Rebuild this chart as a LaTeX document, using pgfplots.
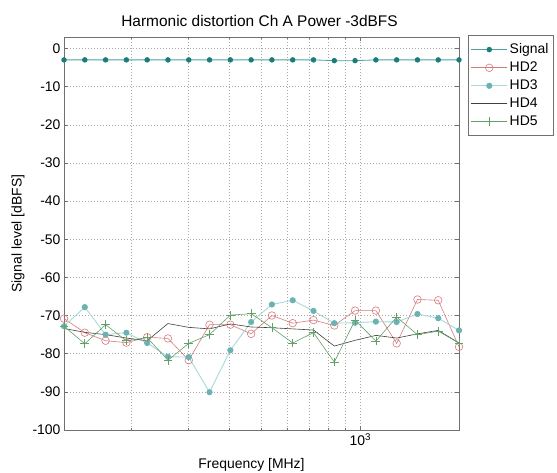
\documentclass[border=0pt]{standalone}
\usepackage{fontspec}
\setmainfont{Liberation Sans}
\usepackage{pgfplots}
\pgfplotsset{compat=1.18}
\usepackage{pgfplotstable}

\definecolor{sigline}{HTML}{4AA3A0}
\definecolor{sigmark}{HTML}{1C7C78}
\definecolor{hdtwo}{HTML}{D77A7E}
\definecolor{hdthreeline}{HTML}{A8D8D8}
\definecolor{hdthreemark}{HTML}{6CB2B2}
\definecolor{hdfour}{HTML}{404040}
\definecolor{hdfive}{HTML}{62A068}
\definecolor{axgray}{HTML}{707070}
\definecolor{gridgray}{HTML}{A8A8A8}

% Measured levels per input frequency (MHz)
\pgfplotstableread{
f       sig   hd2   hd3   hd4   hd5
125     -3.0  -70.8 -72.8 -73.4 -72.8
144.64  -3.0  -74.5 -67.8 -74.4 -77.4
167.36  -3.0  -76.6 -75.0 -75.0 -72.4
193.66  -3.0  -77.1 -74.5 -75.9 -76.6
224.09  -3.0  -75.7 -77.2 -76.6 -75.8
259.30  -3.0  -76.0 -80.8 -72.1 -81.7
300.04  -3.0  -81.7 -80.9 -73.1 -77.3
347.18  -3.0  -72.4 -90.1 -73.5 -75.0
401.73  -3.0  -72.4 -79.1 -72.2 -69.9
464.85  -3.0  -74.8 -71.7 -73.0 -69.5
537.89  -3.0  -70.0 -67.1 -73.2 -73.2
622.40  -3.0  -72.0 -66.0 -73.5 -77.2
720.19  -3.0  -71.2 -68.8 -73.8 -74.5
833.34  -3.2  -72.6 -72.0 -78.0 -82.2
964.27  -3.2  -68.7 -71.9 -76.5 -71.2
1115.77 -3.0  -68.7 -71.6 -75.2 -76.7
1291.07 -3.0  -77.3 -71.7 -75.9 -70.4
1493.91 -3.0  -65.8 -69.6 -74.8 -75.0
1728.62 -3.0  -66.0 -70.7 -73.9 -74.1
2000    -3.0  -78.2 -73.9 -77.2 -77.2
}\hdtable

\begin{document}
\begin{tikzpicture}
\useasboundingbox (-64bp,-43bp) rectangle (493bp,430bp);
\begin{axis}[
  at={(0,0)}, anchor=south west,
  scale only axis, width=395bp, height=393bp,
  xmode=log, xmin=125, xmax=2000,
  ymin=-100, ymax=3,
  xtick={1000}, xticklabels={10\textsuperscript{3}},
  minor xtick={200,300,400,500,600,700,800,900},
  ytick={-100,-90,...,0},
  xmajorgrids, xminorgrids, ymajorgrids,
  grid style={gridgray, line width=0.5bp, dash pattern=on 1bp off 2bp},
  minor grid style={gridgray, line width=0.5bp, dash pattern=on 1bp off 2bp},
  axis line style={axgray, line width=0.8bp},
  tick style={axgray, line width=0.5bp},
  tick align=inside, major tick length=4bp, minor tick length=2.5bp,
  font=\fontsize{14}{16}\selectfont,
  ticklabel style={font=\fontsize{14}{16}\selectfont},
  /pgf/number format/assume math mode=true,
  title={Harmonic distortion Ch A Power -3dBFS},
  title style={font=\fontsize{15.5}{18}\selectfont, at={(axis description cs:0.5,1)}, anchor=center, yshift=10bp, xshift=-2bp},
  xlabel={Frequency [MHz]},
  xlabel style={at={(axis description cs:0.5,0)}, anchor=center, yshift=-35bp, xshift=-10bp},
  ylabel={Signal level [dBFS]},
  ylabel style={at={(axis description cs:-0.1165,0.5)}, anchor=center},
  legend style={at={(1,1)}, anchor=north west, xshift=9bp, yshift=2bp,
    draw=axgray, line width=0.6bp, font=\fontsize{14}{16}\selectfont,
    row sep=2.8bp, inner xsep=2.5bp, inner ysep=6.5bp},
  legend cell align=left,
  legend image code/.code={
    \draw[mark repeat=2, mark phase=2, #1] plot coordinates {(0bp,0bp) (18bp,0bp) (36bp,0bp)};
  },
]
\addplot[sigline, line width=0.8bp, mark=*, mark size=2.3bp,
  mark options={fill=sigmark, draw=sigmark}] table[x=f, y=sig] {\hdtable};
\addlegendentry{Signal}
\addplot[hdtwo, line width=0.6bp, mark=o, mark size=3.8bp,
  mark options={draw=hdtwo, fill=none}] table[x=f, y=hd2] {\hdtable};
\addlegendentry{HD2}
\addplot[hdthreeline, line width=0.9bp, mark=*, mark size=2.6bp,
  mark options={fill=hdthreemark, draw=hdthreemark}] table[x=f, y=hd3] {\hdtable};
\addlegendentry{HD3}
\addplot[hdfour, line width=0.6bp, mark=none] table[x=f, y=hd4] {\hdtable};
\addlegendentry{HD4}
\addplot[hdfive, line width=0.6bp, mark=+, mark size=4.4bp,
  mark options={draw=hdfive, line width=0.6bp}] table[x=f, y=hd5] {\hdtable};
\addlegendentry{HD5}
\end{axis}
\end{tikzpicture}
\end{document}
